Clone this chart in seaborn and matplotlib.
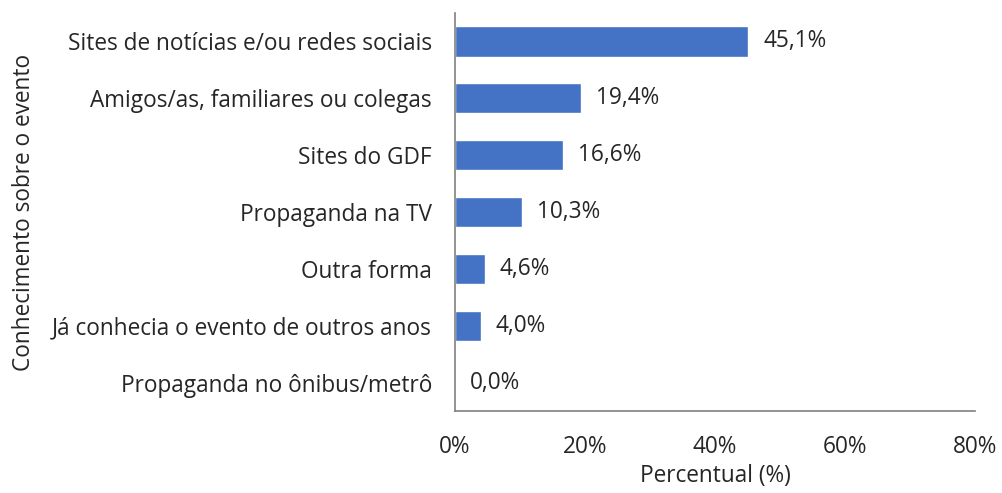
import matplotlib
matplotlib.use("Agg")
import matplotlib.pyplot as plt
import seaborn as sns
import pandas as pd

categories = [
    "Sites de notícias e/ou redes sociais",
    "Amigos/as, familiares ou colegas",
    "Sites do GDF",
    "Propaganda na TV",
    "Outra forma",
    "Já conhecia o evento de outros anos",
    "Propaganda no ônibus/metrô",
]
values = [45.1, 19.4, 16.6, 10.3, 4.6, 4.0, 0.0]
x_ticks = [0, 20, 40, 60, 80]

sns.set_theme(style="white")
plt.rcParams["font.family"] = ["Open Sans", "DejaVu Sans"]
text_color = "#262626"
fs = 16.3

df = pd.DataFrame({"categoria": categories, "percentual": values})

fig = plt.figure(figsize=(10.03, 4.93), dpi=100)
ax = fig.add_axes([0.4536, 0.1663, 0.972 - 0.4536, 0.9736 - 0.1663])

sns.barplot(data=df, x="percentual", y="categoria", color="#4472C4",
            saturation=1, width=0.53, ax=ax, orient="h")

for i, v in enumerate(values):
    ax.text(v + 2.3, i, f"{v:.1f}%".replace(".", ","), va="center", ha="left",
            fontsize=fs, color=text_color)

ax.set_xlim(0, 80)
ax.set_ylim(6.5, -0.5)
ax.set_xticks(x_ticks)
ax.set_xticklabels([f"{t}%" for t in x_ticks], fontsize=fs, color=text_color)
ax.tick_params(axis="y", labelsize=fs, labelcolor=text_color, length=0, pad=16.5)
ax.tick_params(axis="x", length=0, pad=17)
ax.set_xlabel("Percentual (%)", fontsize=fs, color=text_color, labelpad=4)
ax.set_ylabel("Conhecimento sobre o evento", fontsize=fs, color=text_color)
ax.yaxis.set_label_coords((24 - 455) / 520, 0.5)
ax.yaxis.label.set_va("center")

for side in ["top", "right"]:
    ax.spines[side].set_visible(False)
for side in ["left", "bottom"]:
    ax.spines[side].set_color("#808080")
    ax.spines[side].set_linewidth(1.2)

fig.savefig("out.png", dpi=100)
